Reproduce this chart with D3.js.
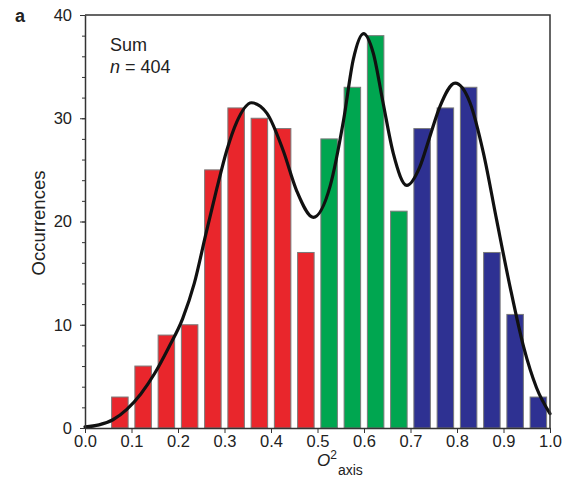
<!doctype html>
<html>
<head>
<meta charset="utf-8">
<title>Sum histogram</title>
<script src="https://cdn.jsdelivr.net/npm/d3@7"></script>
<style>
body { margin: 0; background: #fff; }
text { font-family: "Liberation Sans", Arial, sans-serif; fill: #222; }
</style>
</head>
<body>
<svg width="565" height="479"></svg>
<script>
// bin left edges (width 0.05) and counts
var binStart = [0.05, 0.10, 0.15, 0.20, 0.25, 0.30, 0.35, 0.40, 0.45,
                0.50, 0.55, 0.60, 0.65,
                0.70, 0.75, 0.80, 0.85, 0.90, 0.95];
var counts = [3, 6, 9, 10, 25, 31, 30, 29, 17,
              28, 33, 38, 21,
              29, 31, 33, 17, 11, 3];
var group = ["r", "r", "r", "r", "r", "r", "r", "r", "r",
             "g", "g", "g", "g",
             "b", "b", "b", "b", "b", "b"];

// fitted curve
var fitX = [0.0, 0.03, 0.06, 0.09, 0.12, 0.15, 0.18, 0.21, 0.235, 0.26, 0.283, 0.305, 0.326, 0.358,
            0.391, 0.426, 0.455, 0.491, 0.527, 0.556, 0.577, 0.599, 0.620, 0.641, 0.663, 0.692,
            0.720, 0.740, 0.763, 0.796, 0.828, 0.857, 0.885, 0.914, 0.943, 0.971, 1.0];
var fitY = [0.1, 0.3, 0.8, 1.8, 3.3, 5.3, 7.8, 10.6, 14.0, 18.8, 23.1, 26.9, 29.6, 31.5,
            30.5, 26.9, 23.0, 20.4, 23.4, 29.8, 35.7, 38.2, 36.3, 31.5, 26.6, 23.5,
            25.3, 28.0, 31.1, 33.4, 31.5, 26.6, 20.2, 13.7, 7.9, 3.9, 1.4];

var xTicks = [0.0, 0.1, 0.2, 0.3, 0.4, 0.5, 0.6, 0.7, 0.8, 0.9, 1.0];
var yTicks = [0, 10, 20, 30, 40];

var colors = { r: "#e9262c", g: "#00a650", b: "#2e3192" };

var svg = d3.select("svg"),
    margin = { top: 15, right: 15, bottom: 51, left: 85 },
    width = +svg.attr("width") - margin.left - margin.right,
    height = +svg.attr("height") - margin.top - margin.bottom,
    g = svg.append("g").attr("transform", "translate(" + margin.left + "," + margin.top + ")");

var x = d3.scaleLinear().domain([0, 1]).range([0, width]);
var y = d3.scaleLinear().domain([0, 40]).range([height, 0]);

var binW = 0.05, pad = (x(binW) - x(0)) * 0.145;

g.selectAll("rect.bar")
    .data(counts)
    .enter().append("rect")
    .attr("class", "bar")
    .attr("x", function(d, i) { return x(binStart[i]) + pad; })
    .attr("width", x(binW) - x(0) - 2 * pad)
    .attr("y", function(d) { return y(d); })
    .attr("height", function(d) { return y(0) - y(d); })
    .attr("fill", function(d, i) { return colors[group[i]]; })
    .attr("stroke", "#7a7a7a")
    .attr("stroke-width", 1);

var line = d3.line()
    .x(function(d, i) { return x(fitX[i]); })
    .y(function(d) { return y(d); })
    .curve(d3.curveMonotoneX);

g.append("path")
    .datum(fitY)
    .attr("d", line)
    .attr("fill", "none")
    .attr("stroke", "#111")
    .attr("stroke-width", 3.2)
    .attr("stroke-linecap", "round");

// frame (top and right)
g.append("path")
    .attr("d", "M0,0H" + width + "V" + height)
    .attr("fill", "none")
    .attr("stroke", "#333")
    .attr("stroke-width", 1.5);

// minor y ticks
g.append("g")
    .call(d3.axisLeft(y).tickValues(d3.range(0, 41, 2)).tickSize(3).tickFormat(""))
    .call(function(s) { s.select(".domain").remove(); s.selectAll("line").attr("stroke", "#333"); });

var yAxis = g.append("g")
    .call(d3.axisLeft(y).tickValues(yTicks).tickSize(5).tickPadding(8).tickSizeOuter(0));
yAxis.select(".domain").attr("stroke", "#333").attr("stroke-width", 1.5);
yAxis.selectAll("line").attr("stroke", "#333");
yAxis.selectAll("text").style("font-size", "16.5px").attr("fill", "#222");

var xAxis = g.append("g")
    .attr("transform", "translate(0," + height + ")")
    .call(d3.axisBottom(x).tickValues(xTicks).tickFormat(d3.format(".1f")).tickSize(5).tickPadding(2).tickSizeOuter(0));
xAxis.select(".domain").attr("stroke", "#333").attr("stroke-width", 1.5);
xAxis.selectAll("line").attr("stroke", "#333");
xAxis.selectAll("text").style("font-size", "16.5px").attr("fill", "#222");

// labels
svg.append("text").attr("x", 15).attr("y", 22)
    .style("font-size", "18px").style("font-weight", "bold").text("a");

g.append("text").attr("x", 25).attr("y", 36).style("font-size", "18px").text("Sum");
var nt = g.append("text").attr("x", 25).attr("y", 58).style("font-size", "18px");
nt.append("tspan").style("font-style", "italic").text("n");
nt.append("tspan").text(" = 404");

svg.append("text")
    .attr("transform", "translate(45," + 223 + ") rotate(-90)")
    .attr("text-anchor", "middle")
    .style("font-size", "18.5px")
    .text("Occurrences");

var xt = svg.append("text")
    .attr("x", 317)
    .attr("y", 466)
    .style("font-size", "17px");
xt.append("tspan").style("font-style", "italic").text("O");
xt.append("tspan").attr("dy", -7).style("font-size", "12px").text("2");
xt.append("tspan").attr("dx", 1).attr("dy", 16).style("font-size", "14px").text("axis");
</script>
</body>
</html>
